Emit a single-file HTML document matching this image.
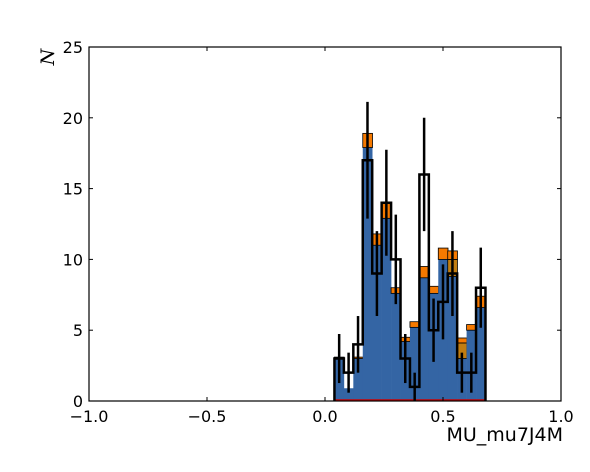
<!DOCTYPE html>
<html><head><meta charset="utf-8"><style>
body{margin:0;background:#fff}
svg{display:block;font-family:"DejaVu Sans","Liberation Sans",sans-serif}
</style></head><body>
<svg id="c" width="590" height="472">
<rect width="590" height="472" fill="#fff"/>
</svg>
<script>
const binStart = 0.04;
const binWidth = 0.04;
const blueVals = [3.0, 0.9, 3.0, 17.9, 11.0, 12.9, 7.6, 4.2, 5.2, 8.7, 7.6, 10.0, 8.8, 3.0, 5.0, 6.6];
const brownVals = [0, 0, 0, 0, 0, 0, 0, 0, 0, 0, 0, 0, 1.2, 1.1, 0, 0];
const orangeVals = [0.1, 0, 0.1, 1.0, 0.8, 1.1, 0.4, 0.3, 0.4, 0.8, 0.5, 0.8, 0.6, 0.35, 0.4, 0.8];
const dataVals = [3, 2, 4, 17, 9, 14, 10, 3, 1, 16, 5, 7, 9, 2, 2, 8];
const xTicks = [-1.0, -0.5, 0.0, 0.5, 1.0];
const xTickLabels = ["\u22121.0", "\u22120.5", "0.0", "0.5", "1.0"];
const yTicks = [0, 5, 10, 15, 20, 25];

const L=89,R=561,T=47,B=401;
const xs=v=>L+(v+1)/2*(R-L);
const ys=v=>B-v/25*(B-T);
const svg=document.getElementById('c');
const NS='http://www.w3.org/2000/svg';
function mk(tag,attrs,parent){const e=document.createElementNS(NS,tag);for(const k in attrs)e.setAttribute(k,attrs[k]);(parent||svg).appendChild(e);return e;}

const gBars=mk('g',{});


for(let i=0;i<dataVals.length;i++){
  const x0=xs(binStart+i*binWidth), x1=xs(binStart+(i+1)*binWidth);
  let base=0;
  const segs=[[blueVals[i],'#3465a4','blue'],[brownVals[i],'#c17d11','brown'],[orangeVals[i],'#f57900','orange']];
  for(const [v,col,nm] of segs){
    if(v<=0)continue;
    const attrs={x:x0,y:ys(base+v),width:x1-x0+0.3,height:ys(base)-ys(base+v),fill:col};
    if(nm!=='blue'){attrs.stroke='#000';attrs['stroke-width']=0.8;}
    const r=mk('rect',attrs,gBars);
    
    
    base+=v;
  }
}
const red=mk('line',{x1:xs(binStart),x2:xs(binStart+dataVals.length*binWidth),y1:B-1,y2:B-1,stroke:'#cc0000','stroke-width':1.5});



let d='M'+xs(binStart)+','+ys(0);
for(let i=0;i<dataVals.length;i++){
  const x0=xs(binStart+i*binWidth), x1=xs(binStart+(i+1)*binWidth);
  d+=' L'+x0+','+ys(dataVals[i])+' L'+x1+','+ys(dataVals[i]);
}
d+=' L'+xs(binStart+dataVals.length*binWidth)+','+ys(0);
const step=mk('path',{d:d,fill:'none',stroke:'#000','stroke-width':2.5,'stroke-linejoin':'miter'});


for(let i=0;i<dataVals.length;i++){
  const xc=xs(binStart+(i+0.5)*binWidth), e=Math.sqrt(dataVals[i]);
  const l=mk('line',{x1:xc,x2:xc,y1:ys(Math.max(0,dataVals[i]-e)),y2:ys(dataVals[i]+e),stroke:'#000','stroke-width':2.5});
  
  
}
const fr=mk('rect',{x:L,y:T,width:R-L,height:B-T,fill:'none',stroke:'#000','stroke-width':1.2});


xTicks.forEach((t,i)=>{
  const x=xs(t);
  const a=mk('line',{x1:x,x2:x,y1:B,y2:B-4,stroke:'#000'});
  
  
  const b=mk('line',{x1:x,x2:x,y1:T,y2:T+4,stroke:'#000'});
  
  
  const tx=mk('text',{x:x,y:B+21,'text-anchor':'middle','font-size':16});
  tx.textContent=xTickLabels[i];
  
  
});
yTicks.forEach(t=>{
  const y=ys(t);
  const a=mk('line',{x1:L,x2:L+4,y1:y,y2:y,stroke:'#000'});
  
  
  const b=mk('line',{x1:R,x2:R-4,y1:y,y2:y,stroke:'#000'});
  
  
  const tx=mk('text',{x:L-6,y:y+6,'text-anchor':'end','font-size':16});
  tx.textContent=t;
  
  
});
const xl=mk('text',{x:563,y:441,'text-anchor':'end','font-size':19});
xl.textContent='MU_mu7J4M';


const yl=mk('text',{x:0,y:0,'text-anchor':'middle','font-size':19,'font-style':'italic','font-family':'"DejaVu Serif",serif',transform:'translate(54,57) rotate(-90)'});
yl.textContent='N';


</script>
</body></html>
